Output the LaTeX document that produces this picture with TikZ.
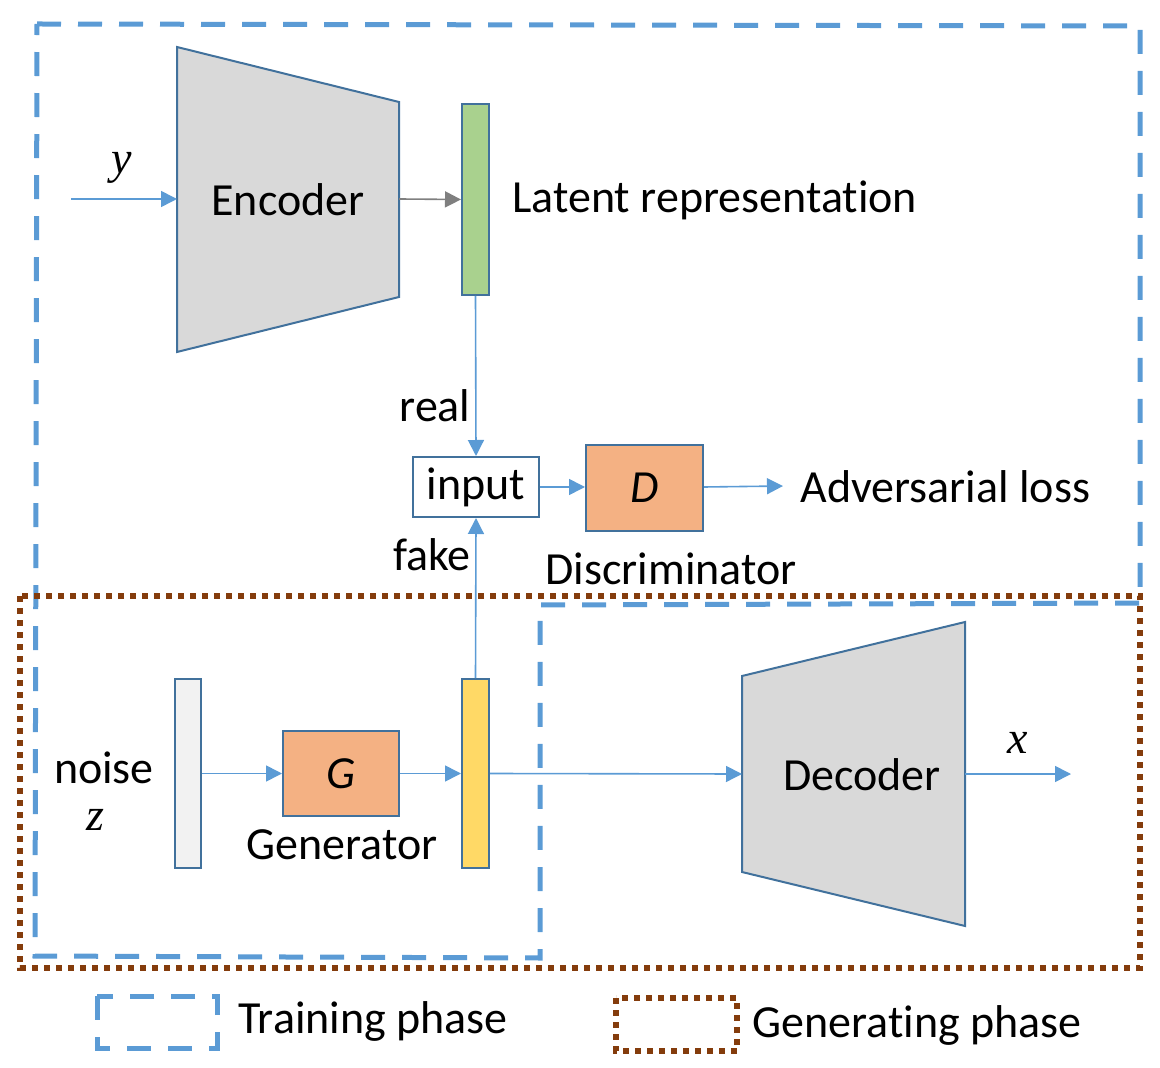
\documentclass[tikz,border=0pt]{standalone}
\usepackage{fontspec}
\setmainfont[Ligatures=NoCommon]{Carlito}
\newfontfamily\varfont{Liberation Serif}
\newcommand\tIsep{t\kern0pt i}
\usetikzlibrary{arrows.meta}
\definecolor{tblue}{HTML}{5B9BD5}
\definecolor{tbrown}{HTML}{843C0C}
\definecolor{edgeblue}{HTML}{41719C}
\definecolor{encgray}{HTML}{D9D9D9}
\definecolor{latgreen}{HTML}{A9D18E}
\definecolor{orangebox}{HTML}{F4B183}
\definecolor{fakeyellow}{HTML}{FFD966}
\definecolor{noisegray}{HTML}{F2F2F2}
\definecolor{arrgray}{HTML}{7F7F7F}
\tikzset{
  trainbox/.style={draw=tblue, line width=2.5pt, dash pattern=on 12pt off 8.5pt},
  genbox/.style={draw=tbrown, line width=3pt, dash pattern=on 3pt off 3pt},
  block/.style={draw=edgeblue, line width=1pt, inner sep=0pt},
  conn/.style={draw=tblue, line width=0.8pt, -{Triangle[length=8pt,width=8pt]}},
  lbl/.style={inner sep=0pt, font=\fontsize{23}{27}\selectfont},
}
\begin{document}
\begin{tikzpicture}[x=0.5pt,y=-0.5pt]
\useasboundingbox (0,0) rectangle (1160,1068);
% phase outlines
\draw[trainbox] (37,24) -- (1140,26) -- (1140,603) -- (540,605) -- (540,958) -- (35,956) -- cycle;
\draw[genbox] (20,596) rectangle (1140,968);
% encoder
\draw[block, fill=encgray] (177,47) -- (399,102) -- (399,297) -- (177,352) -- cycle;
\coordinate (encin) at (177,199);
\coordinate (encout) at (399,199);
\node[lbl] (enc) at (288,200) {Encoder};
\coordinate (ystart) at (71,199);
\node[lbl] (ylab) at (122,168) {\varfont\itshape y};
% latent
\node[block, fill=latgreen, minimum width=13.5pt, minimum height=95.5pt] (lat) at (475.5,199.5) {};
\node[lbl, anchor=west] (latlab) at (512,200) {Latent representa\tIsep on};
% input & D
\node[block, fill=white, minimum width=63pt, minimum height=30pt] (inp) at (476,487) {};
\node[lbl] at (inp.center) {input};
\node[block, fill=orangebox, minimum width=58.5pt, minimum height=43pt] (D) at (644.5,488) {};
\node[lbl] at (D.center) {\itshape D};
\coordinate (advend) at (783,486);
\node[lbl, anchor=west] (adv) at (800,487) {Adversarial loss};
\node[lbl] (disc) at (671,569) {Discriminator};
\node[lbl] (real) at (435,406) {real};
\node[lbl] (fake) at (432,555) {fake};
% generator side
\node[block, fill=noisegray, minimum width=13pt, minimum height=94.5pt] (noise) at (188,773.5) {};
\node[lbl] (noiselab) at (104,768) {noise};
\node[lbl] (zlab) at (95,820) {\varfont\itshape z};
\node[block, fill=orangebox, minimum width=58pt, minimum height=42.5pt] (G) at (341,773.5) {};
\node[lbl] at (G.center) {\itshape G};
\node[lbl] (genlab) at (342,845) {Generator};
\node[block, fill=fakeyellow, minimum width=13.5pt, minimum height=94.5pt] (fakev) at (475.5,773.5) {};
% decoder
\draw[block, fill=encgray] (742,676) -- (965,622) -- (965,926) -- (742,872) -- cycle;
\coordinate (decin) at (742,774);
\coordinate (decout) at (965,774);
\node[lbl] (dec) at (862,775) {Decoder};
\coordinate (xend) at (1071,774);
\node[lbl] (xlab) at (1018,743) {\varfont\itshape x};
% connectors
\draw[conn] (ystart) -- (encin);
\draw[conn, draw=arrgray] (encout) -- (lat.west);
\draw[conn] (lat.south) -- (inp.north);
\draw[conn] (inp.east) -- (D.west |- inp.east);
\draw[conn] (D.east |- inp.east) -- (advend);
\draw[conn] (fakev.north) -- (inp.south);
\draw[conn] (noise.east) -- (G.west);
\draw[conn] (G.east) -- (fakev.west);
\draw[conn] (fakev.east) -- (decin);
\draw[conn] (decout) -- (xend);
% legend
\draw[trainbox] (97,996) rectangle (217,1048);
\node[lbl, anchor=west] (trainlab) at (238,1021) {Training phase};
\draw[genbox] (616,998) rectangle (737,1051);
\node[lbl, anchor=west] (genphlab) at (752,1025) {Genera\tIsep ng phase};
\end{tikzpicture}
\end{document}
